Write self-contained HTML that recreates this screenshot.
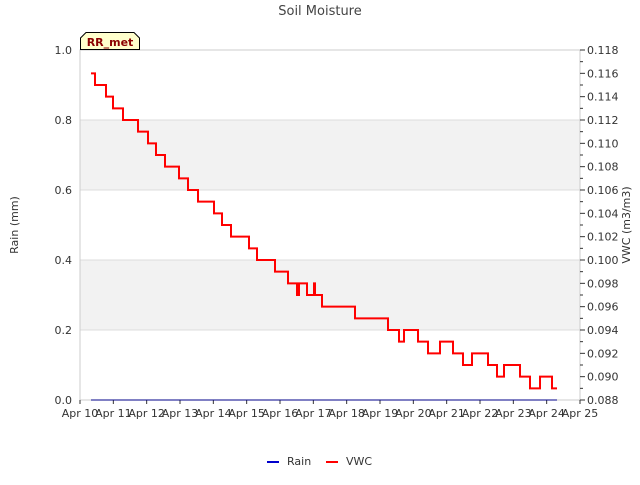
<!DOCTYPE html>
<html><head><meta charset="utf-8"><style>
body{margin:0;background:#fff;font-family:"Liberation Sans","DejaVu Sans",sans-serif}
</style></head><body>
<svg width="640" height="480" viewBox="0 0 640 480" font-family="DejaVu Sans, Liberation Sans, sans-serif">
<text x="320" y="15" text-anchor="middle" font-size="13" fill="#444">Soil Moisture</text>
<g id="bands"></g>
<g id="grid"></g>
<rect x="80" y="50" width="500" height="350" fill="none" stroke="#ccc"/>
<g id="axes" font-size="11" fill="#333"></g>
<g id="series"></g>
<text transform="translate(18,225) rotate(-90)" text-anchor="middle" font-size="11" fill="#333">Rain (mm)</text>
<text transform="translate(630,225) rotate(-90)" text-anchor="middle" font-size="11" fill="#333">VWC (m3/m3)</text>
<g>
<path d="M80.5,49.5 L80.5,38 L86,32.5 L134,32.5 L139.5,38 L139.5,49.5 Z" fill="#ffffcc" stroke="#000"/>
<text x="110" y="46" text-anchor="middle" font-size="11" font-weight="bold" fill="#8b0000">RR_met</text>
</g>
<g>
<g><line x1="267" y1="462" x2="279" y2="462" stroke="#0000cc" stroke-width="2"/><text x="287" y="465" font-size="11" fill="#333">Rain</text></g>
<g><line x1="326" y1="462" x2="338" y2="462" stroke="#ff0000" stroke-width="2"/><text x="346" y="465" font-size="11" fill="#333">VWC</text></g>
</g>
</svg>
<script>
const xTickLabels=["Apr 10","Apr 11","Apr 12","Apr 13","Apr 14","Apr 15","Apr 16","Apr 17","Apr 18","Apr 19","Apr 20","Apr 21","Apr 22","Apr 23","Apr 24","Apr 25"];
const leftTicks=[0.0,0.2,0.4,0.6,0.8,1.0];
const rightTicks=[0.088,0.090,0.092,0.094,0.096,0.098,0.100,0.102,0.104,0.106,0.108,0.110,0.112,0.114,0.116,0.118];
const rainDays=[0.33,14.31];
const rainValues=[0,0];
const vwcDays=[0.33,0.45,0.78,0.99,1.29,1.74,2.04,2.28,2.55,2.97,3.24,3.54,4.02,4.26,4.53,5.07,5.31,5.85,6.24,6.51,6.57,6.81,7.02,7.05,7.26,8.25,9.24,9.57,9.72,10.14,10.44,10.8,11.19,11.49,11.76,12.24,12.51,12.72,13.2,13.5,13.8,14.16,14.31];
const vwcValues=[0.116,0.115,0.114,0.113,0.112,0.111,0.110,0.109,0.108,0.107,0.106,0.105,0.104,0.103,0.102,0.101,0.100,0.099,0.098,0.097,0.098,0.097,0.098,0.097,0.096,0.095,0.094,0.093,0.094,0.093,0.092,0.093,0.092,0.091,0.092,0.091,0.090,0.091,0.090,0.089,0.090,0.089,0.089];
const NS="http://www.w3.org/2000/svg";
const X0=80,X1=580,Y0=400,Y1=50;
const xs=d=>X0+d*(X1-X0)/15;
const yl=v=>Y0-v*(Y0-Y1);
const yr=v=>Y0-(v-0.088)/(0.118-0.088)*(Y0-Y1);
function mk(tag,attrs,parent){const e=document.createElementNS(NS,tag);for(const k in attrs)e.setAttribute(k,attrs[k]);parent.appendChild(e);return e;}
const bands=document.getElementById('bands'),grid=document.getElementById('grid'),axes=document.getElementById('axes'),series=document.getElementById('series');
[[0.2,0.4],[0.6,0.8]].forEach(b=>{const r=mk('rect',{x:X0,y:yl(b[1]),width:X1-X0,height:yl(b[0])-yl(b[1]),fill:'#f2f2f2'},bands);

});
leftTicks.forEach(v=>{const l=mk('line',{x1:X0,x2:X1,y1:yl(v),y2:yl(v),stroke:'#dcdcdc'},grid);


const t=mk('text',{x:72,y:yl(v)+4,'text-anchor':'end'},axes);t.textContent=v.toFixed(1);

});
rightTicks.forEach(v=>{mk('line',{x1:X1,x2:X1+5,y1:yr(v),y2:yr(v),stroke:'#333'},axes);
if(v<0.118)mk('line',{x1:X1,x2:X1+3,y1:yr(v+0.001),y2:yr(v+0.001),stroke:'#333'},axes);
const t=mk('text',{x:587,y:yr(v)+4},axes);t.textContent=v.toFixed(3);

});
xTickLabels.forEach((s,i)=>{mk('line',{x1:xs(i),x2:xs(i),y1:Y0,y2:Y0+4,stroke:'#333'},axes);
const t=mk('text',{x:xs(i),y:417,'text-anchor':'middle'},axes);t.textContent=s;

});
const rain=mk('polyline',{points:rainDays.map((d,i)=>xs(d)+','+yl(rainValues[i])).join(' '),fill:'none',stroke:'#000088','stroke-width':1},series);


let pts=[];
vwcDays.forEach((d,i)=>{if(i>0)pts.push(xs(d)+','+yr(vwcValues[i-1]));pts.push(xs(d)+','+yr(vwcValues[i]));});
const vwc=mk('polyline',{points:pts.join(' '),fill:'none',stroke:'#ff0000','stroke-width':2},series);


</script>
</body></html>
